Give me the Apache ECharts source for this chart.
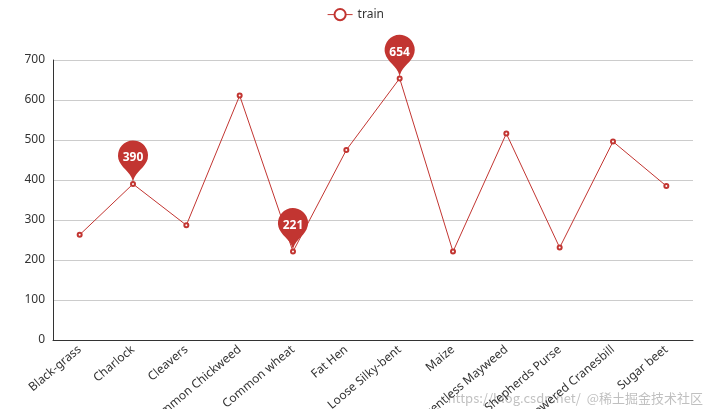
<!DOCTYPE html>
<html><head><meta charset="utf-8">
<script src="https://cdn.jsdelivr.net/npm/echarts@6/dist/echarts.min.js"></script>
<style>html,body{margin:0;padding:0;background:#fff}#c{width:711px;height:409px}</style>
</head><body><div id="c"></div>
<script>
const categories = ['Black-grass','Charlock','Cleavers','Common Chickweed','Common wheat','Fat Hen','Loose Silky-bent','Maize','Scentless Mayweed','Shepherds Purse','Small-flowered Cranesbill','Sugar beet'];
const trainValues = [263,390,287,611,221,475,654,221,516,231,496,385];
const chart = echarts.init(document.getElementById('c'));
chart.setOption({
  animation:false,
  textStyle:{fontFamily:'Microsoft YaHei, Noto Sans, sans-serif'},
  legend:{top:3,data:['train'],textStyle:{color:'#333',fontSize:12},itemStyle:{borderWidth:1},lineStyle:{width:1}},
  grid:{left:53,right:18,top:60,bottom:69,containLabel:false,outerBoundsMode:'none'},
  xAxis:{type:'category',data:categories,boundaryGap:true,
    axisLabel:{rotate:40,interval:0,color:'#333',fontSize:12},
    axisLine:{lineStyle:{color:'#333'}}},
  yAxis:{type:'value',min:0,max:700,interval:100,
    axisLabel:{color:'#333'},axisLine:{show:true,lineStyle:{color:'#333'}},
    splitLine:{lineStyle:{color:'#ccc'}}},
  series:[{name:'train',type:'line',data:trainValues,
    color:'#c23531',symbol:'emptyCircle',symbolSize:4,lineStyle:{width:1},itemStyle:{borderWidth:1},
    markPoint:{data:[{type:'max'},{type:'min'},{coord:[1,390],value:390}],
      itemStyle:{color:'#c23531'},label:{fontSize:12,color:'#fff',fontWeight:'bold'}}}],
  graphic:[{type:'text',right:8,bottom:4,style:{text:'https://blog.csdn.net/  @稀土掘金技术社区',fill:'rgba(150,150,150,0.6)',font:'13px "Noto Sans CJK SC"'}}]
});
</script></body></html>
